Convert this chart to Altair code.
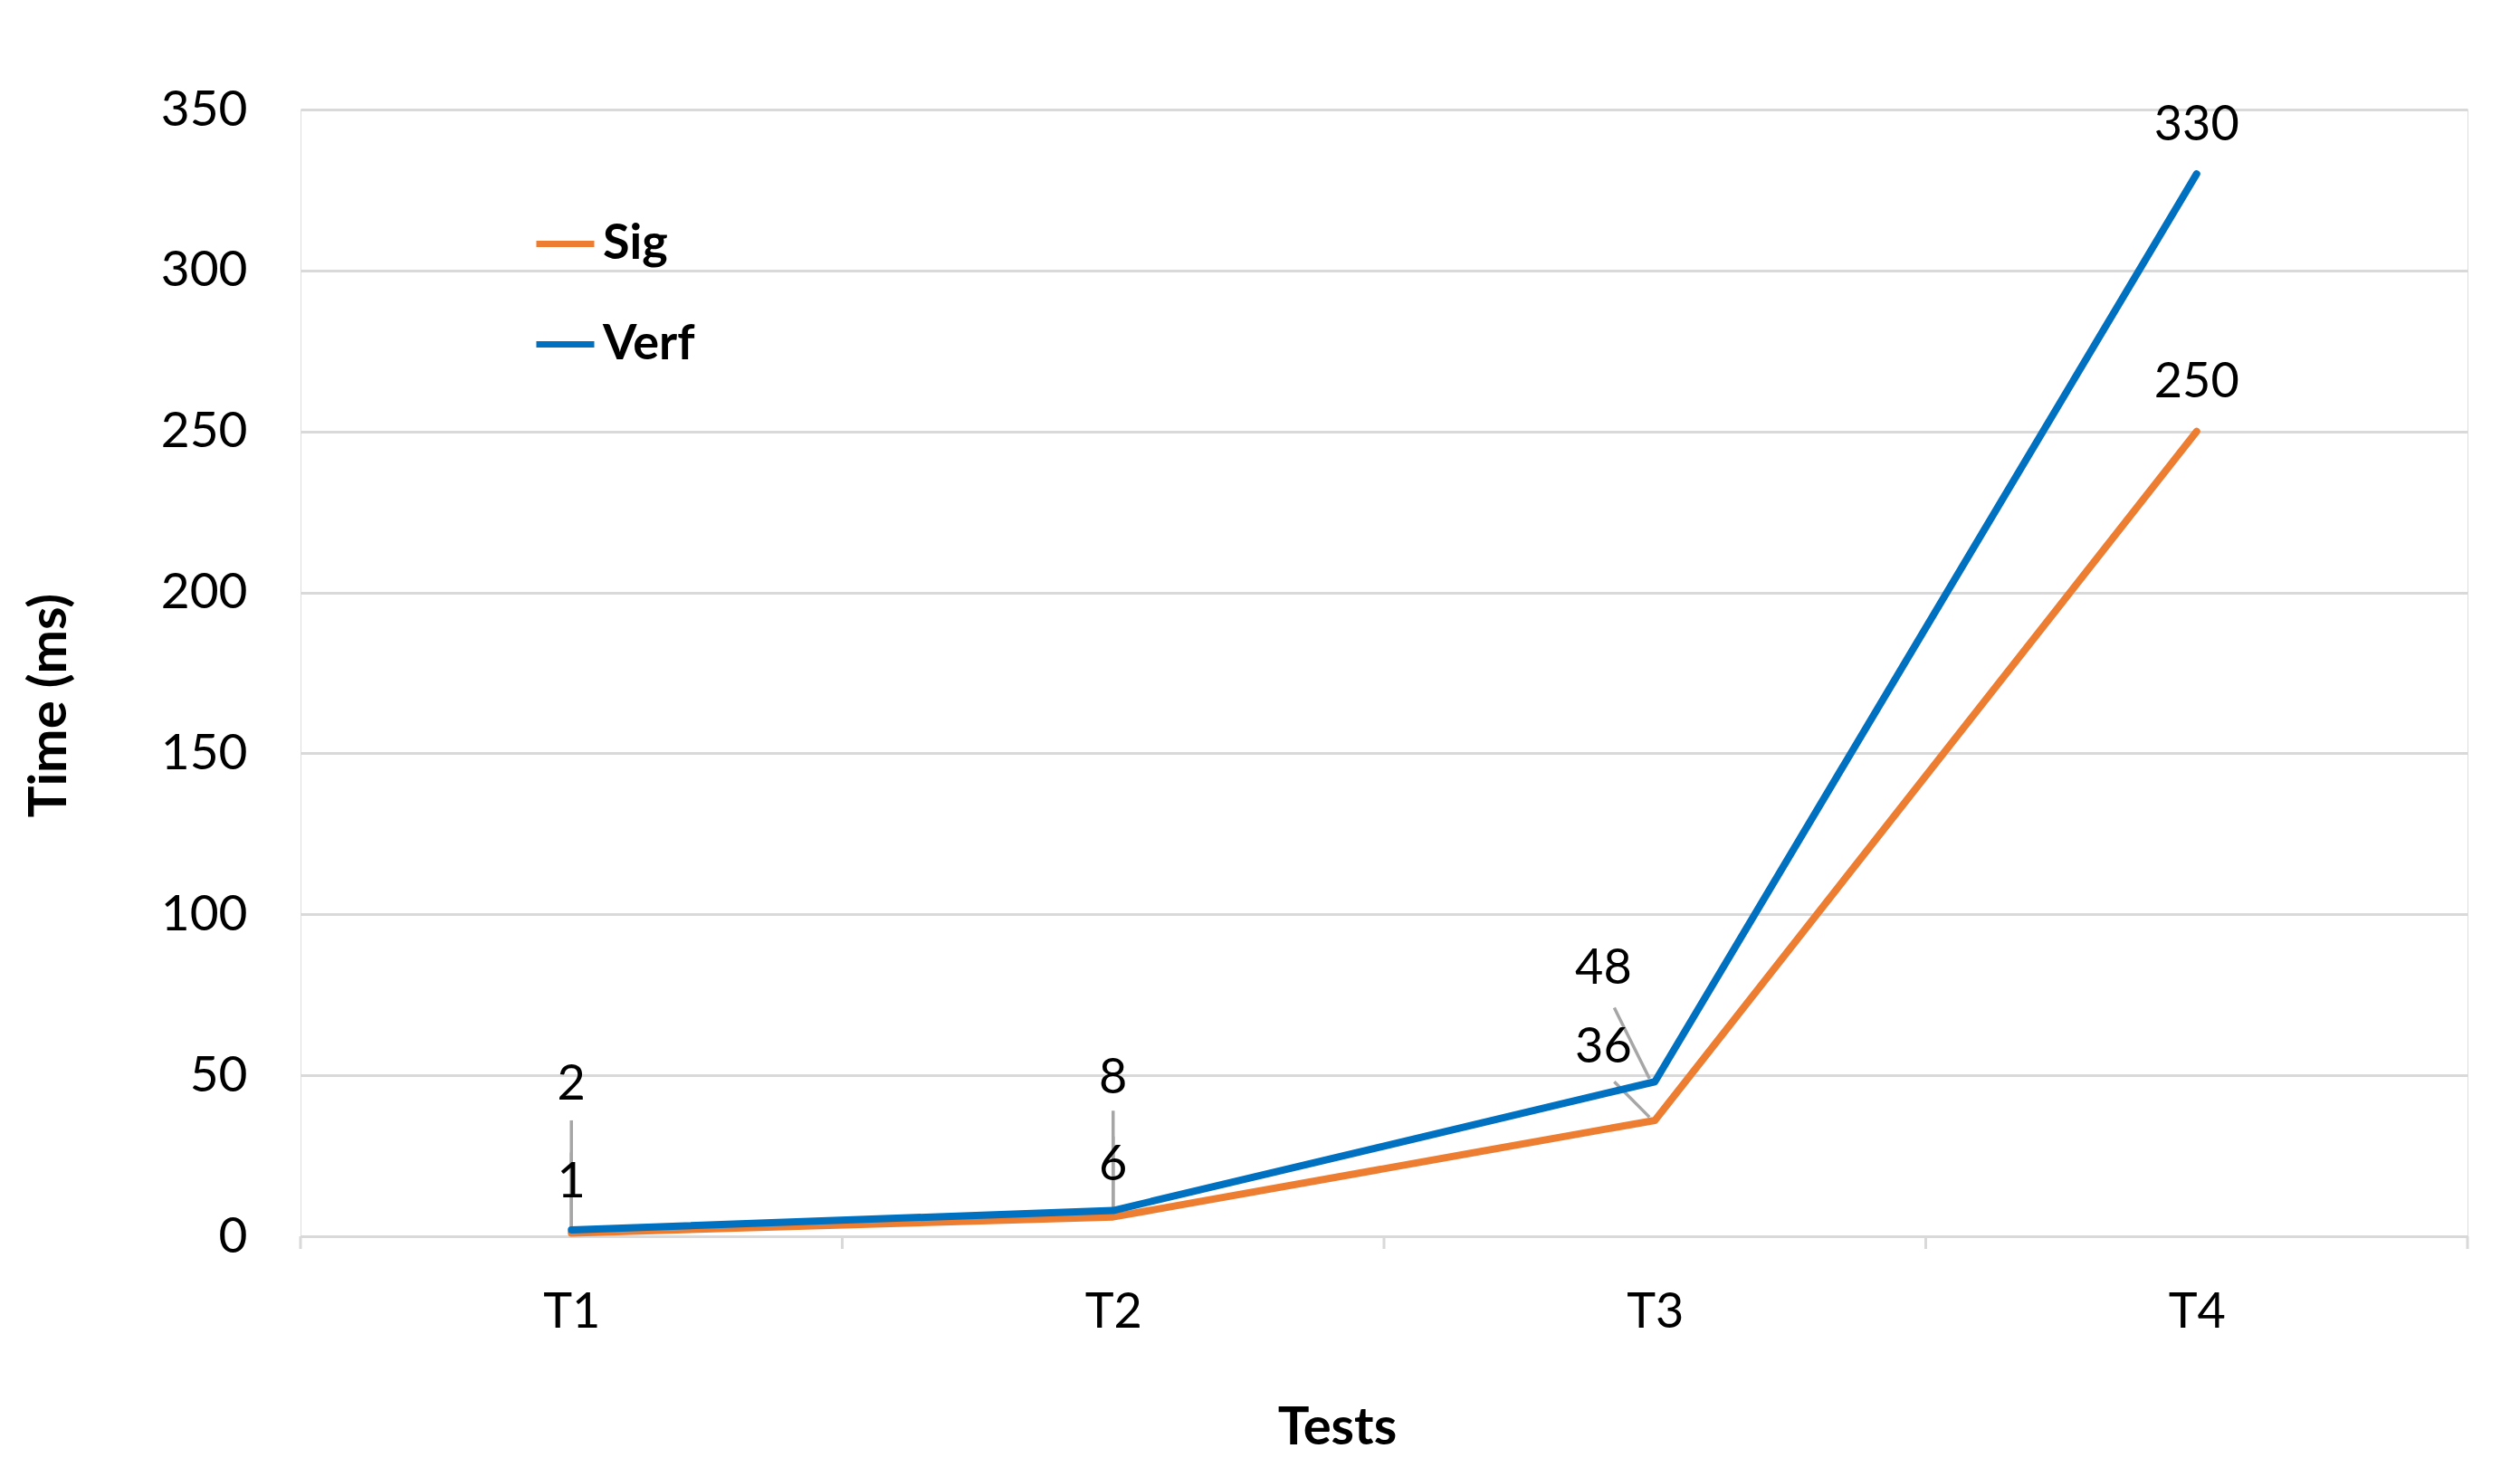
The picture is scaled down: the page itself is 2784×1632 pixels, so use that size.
import altair as alt
import pandas as pd

# ---- data ----
tests = ["T1", "T2", "T3", "T4"]
test_pos = [1, 2, 3, 4]
sig = [1, 6, 36, 250]
verf = [2, 8, 48, 330]
y_ticks = [0, 50, 100, 150, 200, 250, 300, 350]
band_edges = [0.5, 1.5, 2.5, 3.5, 4.5]

# data-label placement (annotation layout, in data units)
label_x = [1, 2, 2.905, 4]
sig_label_y = [16.5, 22, 58.5, 265]
verf_label_y = [47, 49, 83, 345]
# leader lines: (x_start, y_start, x_end, y_end)
sig_leaders = [(1, 26, 1, 1), (2, 31, 2, 6), (2.925, 48, 2.99, 37)]
verf_leaders = [(1, 36, 1, 2), (2, 39, 2, 8), (2.925, 71, 2.99, 49)]

W, H = 2394, 1245
FONT = "Lato"

lines_df = pd.DataFrame(
    [{"x": p, "test": t, "series": "Sig", "value": v} for p, t, v in zip(test_pos, tests, sig)]
    + [{"x": p, "test": t, "series": "Verf", "value": v} for p, t, v in zip(test_pos, tests, verf)]
)
labels_df = pd.DataFrame(
    [{"x": lx, "y": ly, "text": str(v)} for lx, ly, v in zip(label_x, sig_label_y, sig)]
    + [{"x": lx, "y": ly, "text": str(v)} for lx, ly, v in zip(label_x, verf_label_y, verf)]
)
leaders_df = pd.DataFrame(
    [{"x": a, "y": b, "x2": c, "y2": d} for a, b, c, d in sig_leaders + verf_leaders]
)
edges_df = pd.DataFrame({"e": band_edges})

xscale = alt.Scale(domain=[0.5, 4.5], nice=False, zero=False)
yscale = alt.Scale(domain=[0, 350], nice=False)

x_axis = alt.Axis(
    values=test_pos, labelExpr="'T' + datum.value", title="Tests",
    grid=False, ticks=False, tickSize=0, domain=True, domainColor="#D9D9D9", domainWidth=3,
    labelFont=FONT, labelFontSize=54, labelColor="#000000", labelPadding=57,
    labelBaseline="top",
    titleFont=FONT, titleFontSize=58, titleFontWeight="bold", titleColor="#000000",
    titleX=1145, titleY=212, titleBaseline="middle",
)
y_axis = alt.Axis(
    values=y_ticks, title="Time (ms)", grid=True, gridColor="#D9D9D9", gridWidth=3,
    ticks=False, tickSize=0, domain=False,
    labelFont=FONT, labelFontSize=55, labelColor="#000000", labelPadding=59,
    titleFont=FONT, titleFontSize=58, titleFontWeight="bold", titleColor="#000000",
    titleX=-277, titleY=658, titleAngle=-90, titleAlign="center", titleBaseline="middle",
)

color = alt.Color(
    "series:N",
    scale=alt.Scale(domain=["Sig", "Verf"], range=["#ED7D31", "#0070C0"]),
    legend=alt.Legend(
        title=None, orient="none", legendX=257, legendY=113, direction="vertical",
        symbolType="stroke", symbolSize=4096, symbolStrokeWidth=7,
        labelFont=FONT, labelFontSize=54, labelFontWeight="bold", labelColor="#000000",
        labelOffset=6, rowPadding=48, padding=0,
    ),
)

ticks_layer = alt.Chart(edges_df).mark_rule(color="#D9D9D9", strokeWidth=3).encode(
    x=alt.X("e:Q", scale=xscale, axis=x_axis),
    y=alt.value(H),
    y2=alt.value(H + 14),
)

leaders_layer = alt.Chart(leaders_df).mark_rule(color="#A6A6A6", strokeWidth=3.5).encode(
    x=alt.X("x:Q", scale=xscale),
    y=alt.Y("y:Q", scale=yscale),
    x2="x2:Q",
    y2="y2:Q",
)

lines_layer = alt.Chart(lines_df).mark_line(
    strokeWidth=8, strokeCap="round", strokeJoin="round"
).encode(
    x=alt.X("x:Q", scale=xscale, axis=x_axis),
    y=alt.Y("value:Q", scale=yscale, axis=y_axis),
    color=color,
    order="x:Q",
)

text_layer = alt.Chart(labels_df).mark_text(
    font=FONT, fontSize=54, color="#000000", align="center", baseline="middle"
).encode(
    x=alt.X("x:Q", scale=xscale),
    y=alt.Y("y:Q", scale=yscale),
    text="text:N",
)

chart = alt.layer(ticks_layer, leaders_layer, lines_layer, text_layer).properties(
    width=W, height=H,
    autosize=alt.AutoSizeParams(type="none"),
    padding={"left": 324, "top": 113, "right": 30, "bottom": 262},
).configure_view(stroke=None).configure(background="#ffffff")

chart.save("out.html", embed_options={"renderer": "svg", "actions": False})
